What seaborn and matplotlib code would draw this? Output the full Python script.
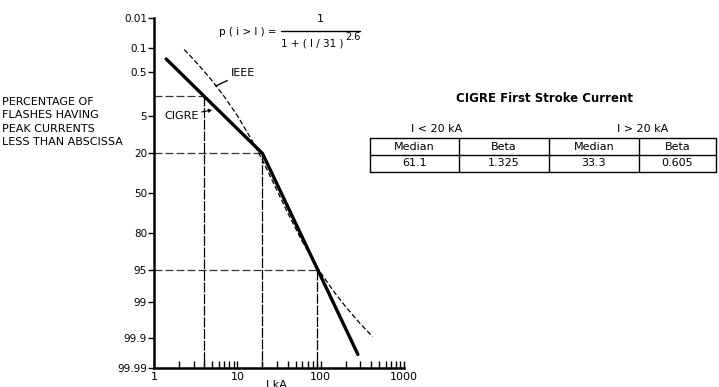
import numpy as np
import pandas as pd
import matplotlib
matplotlib.use("Agg")
import matplotlib.pyplot as plt
import seaborn as sns
from statistics import NormalDist

# ---------------- data ----------------
# CIGRE first stroke (two lognormal segments, straight on probability paper)
cigre_current = [1.4, 20, 280]          # kA
cigre_percent = [0.22, 20, 99.97]       # % less than abscissa

# IEEE curve
ieee_current = [2.3, 3, 4, 5, 7, 10, 15, 20, 30, 40, 60, 100, 150, 200, 300, 420]
ieee_percent = [0.115, 0.23, 0.485, 0.86, 2.05, 5.0, 13.2, 24.2, 47.9, 66.0,
                84.8, 95.5, 98.37, 99.22, 99.73, 99.886]

# dashed guide lines (current, percent)
guide_current = [4, 20, 90]
guide_percent = [2, 20, 95]

y_ticks = [0.01, 0.1, 0.5, 5, 20, 50, 80, 95, 99, 99.9, 99.99]
y_labels = ["0.01", "0.1", "0.5", "5", "20", "50", "80", "95", "99", "99.9", "99.99"]
x_ticks = [1, 10, 100, 1000]
x_labels = ["1", "10", "100", "1000"]

table_title = "CIGRE First Stroke Current"
table_groups = ["I < 20 kA", "I > 20 kA"]
table_cols = ["Median", "Beta", "Median", "Beta"]
table_vals = ["61.1", "1.325", "33.3", "0.605"]

left_text = "PERCENTAGE OF\nFLASHES HAVING\nPEAK CURRENTS\nLESS THAN ABSCISSA"

# ---------------- probability scale ----------------
_nd = NormalDist()
_ppf = np.vectorize(_nd.inv_cdf, otypes=[float])
_cdf = np.vectorize(_nd.cdf, otypes=[float])


def fwd(p):
    p = np.asarray(p, dtype=float)
    bad = ~np.isfinite(p)
    q = np.where(bad, 50.0, p)
    q = np.clip(q / 100.0, 1e-9, 1 - 1e-9)
    out = _ppf(q)
    return np.where(bad, np.nan, out)


def inv(z):
    z = np.asarray(z, dtype=float)
    bad = ~np.isfinite(z)
    zz = np.where(bad, 0.0, z)
    out = _cdf(zz) * 100.0
    return np.where(bad, np.nan, out)


# ---------------- figure ----------------
sns.set_style("white")
plt.rcParams["font.family"] = ["DejaVu Sans"]
plt.rcParams["font.size"] = 8
plt.rcParams["text.color"] = "black"
plt.rcParams["xtick.color"] = "black"
plt.rcParams["ytick.color"] = "black"
plt.rcParams["axes.labelcolor"] = "black"

W, H = 719, 387
fig = plt.figure(figsize=(W / 100, H / 100), dpi=100)
ax = fig.add_axes([154 / W, 19 / H, 250 / W, 350 / H])

ax.set_xscale("log")
ax.set_yscale("function", functions=(fwd, inv))

# guide lines
for c, p in zip(guide_current, guide_percent):
    ax.plot([1, c], [p, p], color="#333333", lw=0.9, dashes=(6.4, 2.4))
    ax.plot([c, c], [p, 99.99], color="black", lw=0.9, dashes=(8, 1.3))

df_cigre = pd.DataFrame({"I": cigre_current, "P": cigre_percent})
df_ieee = pd.DataFrame({"I": ieee_current, "P": ieee_percent})

sns.lineplot(data=df_ieee, x="I", y="P", ax=ax, color="black", lw=0.9,
             sort=False, estimator=None)
ax.lines[-1].set_dashes((4, 2))
sns.lineplot(data=df_cigre, x="I", y="P", ax=ax, color="black", lw=2.4,
             sort=False, estimator=None)

ax.set_xlim(1, 1000)
ax.set_ylim(99.99, 0.01)
ax.set_xticks(x_ticks)
ax.set_xticklabels(x_labels)
ax.yaxis.set_major_locator(matplotlib.ticker.FixedLocator(y_ticks))
ax.yaxis.set_minor_locator(matplotlib.ticker.NullLocator())
ax.set_yticklabels(y_labels)
ax.set_xlabel("")
ax.set_ylabel("")

ax.tick_params(axis="x", which="both", direction="in", length=5, width=1,
               pad=3, labelsize=8, bottom=True, colors="black")
ax.tick_params(axis="y", which="major", direction="out", length=4, width=1,
               pad=1, labelsize=7.5, left=True, colors="black")

for s in ["top", "right"]:
    ax.spines[s].set_visible(False)
for s in ["left", "bottom"]:
    ax.spines[s].set_linewidth(1.8)
    ax.spines[s].set_color("black")

# annotations
ax.annotate("IEEE", xy=(5.5, 1.15), xytext=(8.3, 0.55),
            ha="left", va="center", fontsize=8, color="black",
            arrowprops=dict(arrowstyle="-", color="black", lw=1,
                            shrinkA=0, shrinkB=0))
ax.annotate("CIGRE", xy=(5.0, 3.9), xytext=(3.4, 5.0),
            ha="right", va="center", fontsize=8, color="black",
            arrowprops=dict(arrowstyle="-|>", color="black", lw=0.8,
                            mutation_scale=5, shrinkA=0, shrinkB=0))

# ---------------- overlay for text / table ----------------
ov = fig.add_axes([0, 0, 1, 1], facecolor="none")
ov.set_xlim(0, W)
ov.set_ylim(H, 0)
ov.axis("off")

ov.text(2, 122, left_text, ha="left", va="center", fontsize=8,
        linespacing=1.38)

# formula
ov.text(277, 32, "p ( i > I ) =", ha="right", va="center", fontsize=7.5)
ov.text(320, 19, "1", ha="center", va="center", fontsize=8)
ov.plot([281, 360], [31, 31], color="black", lw=1)
ov.text(281, 44, "1 + ( I / 31 )", ha="left", va="center", fontsize=7.5)
ov.text(345, 37, "2.6", ha="left", va="center", fontsize=7)

# table
ov.text(544, 98, table_title, ha="center", va="center", fontsize=8.5,
        fontweight="bold")
ov.text(437, 129, table_groups[0], ha="center", va="center", fontsize=8)
ov.text(643, 129, table_groups[1], ha="center", va="center", fontsize=8)

col_edges = [370, 459, 549, 639, 716]
row_edges = [138, 155, 172]
for y in row_edges:
    ov.plot([col_edges[0], col_edges[-1]], [y, y], color="black", lw=1)
for x in col_edges:
    ov.plot([x, x], [row_edges[0], row_edges[-1]], color="black", lw=1)
for i in range(4):
    cx = (col_edges[i] + col_edges[i + 1]) / 2
    ov.text(cx, (row_edges[0] + row_edges[1]) / 2, table_cols[i],
            ha="center", va="center", fontsize=8)
    ov.text(cx, (row_edges[1] + row_edges[2]) / 2, table_vals[i],
            ha="center", va="center", fontsize=8)

# x label (partly cut by figure edge, as in the original)
ov.text(276, 380, "I kA", ha="center", va="top", fontsize=8)

fig.savefig("out.png", dpi=100)
